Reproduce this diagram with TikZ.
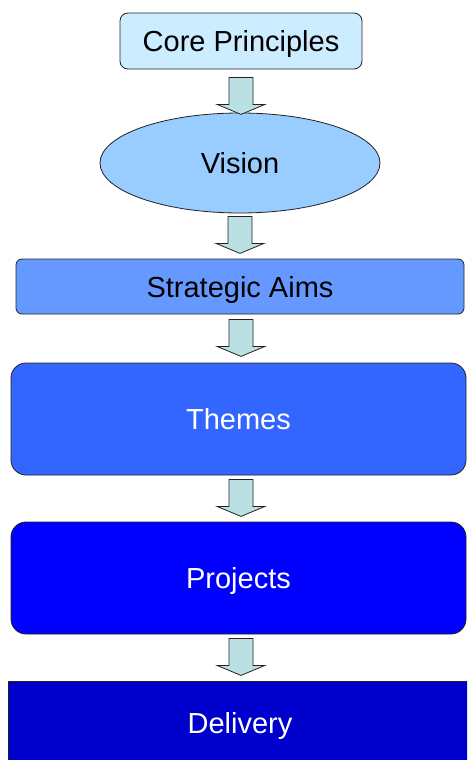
\documentclass[tikz,border=0pt]{standalone}
\usepackage{fontspec}
\setmainfont{Liberation Sans}
\usetikzlibrary{shapes.geometric,calc}

\definecolor{corefill}{HTML}{CCECFF}
\definecolor{visionfill}{HTML}{99CCFF}
\definecolor{aimsfill}{HTML}{6699FF}
\definecolor{themesfill}{HTML}{3366FF}
\definecolor{projectsfill}{HTML}{0000FF}
\definecolor{deliveryfill}{HTML}{0000CC}
\definecolor{arrowfill}{HTML}{BBE0E3}
\definecolor{edge}{HTML}{222222}

% Downward block arrow hanging from a given top point
\newcommand\blockdown[1]{%
  \draw[blockarrow] (#1) ++(-12,0) -- ++(24,0) -- ++(0,27) -- ++(12,0)
    -- ++(-24,10) -- ++(-24,-10) -- ++(12,0) -- cycle;}

\begin{document}
\begin{tikzpicture}[x=1pt,y=-1pt,
  stage/.style={draw=edge,line width=0.8pt,font=\fontsize{29}{32}\selectfont,
    inner sep=0pt,text height=21pt,text depth=0pt},
  blockarrow/.style={draw=edge,line width=0.8pt,fill=arrowfill,line join=miter}]
  \useasboundingbox (0,0) rectangle (467,760);
  \clip (0,0) rectangle (467,760);

  \node[stage,rounded corners=8pt,fill=corefill,minimum width=242pt,minimum height=56pt]
    (core) at (241,41) {Core Principles};
  \node[stage,ellipse,fill=visionfill,minimum width=280pt,minimum height=100pt]
    (vision) at (240,163) {Vision};
  \node[stage,rounded corners=6pt,fill=aimsfill,minimum width=448pt,minimum height=55pt]
    (aims) at (240,286.5) {Strategic Aims};
  \node[stage,rounded corners=15pt,fill=themesfill,text=white,minimum width=455pt,minimum height=112pt]
    (themes) at (238.5,419) {Themes};
  \node[stage,rounded corners=15pt,fill=projectsfill,text=white,minimum width=455pt,minimum height=112pt]
    (projects) at (238.5,578) {Projects};
  \node[stage,fill=deliveryfill,text=white,minimum width=464pt,minimum height=84pt]
    (delivery) at (240,723) {Delivery};

  \path (core.south) ++(0,8) coordinate (a1);
  \path (vision.south) ++(0,3) coordinate (a2);
  \path (aims.south) ++(1,5) coordinate (a3);
  \path (themes.south) ++(2.5,4) coordinate (a4);
  \path (projects.south) ++(2.5,4) coordinate (a5);

  \blockdown{a1}
  \blockdown{a2}
  \blockdown{a3}
  \blockdown{a4}
  \blockdown{a5}
\end{tikzpicture}
\end{document}
